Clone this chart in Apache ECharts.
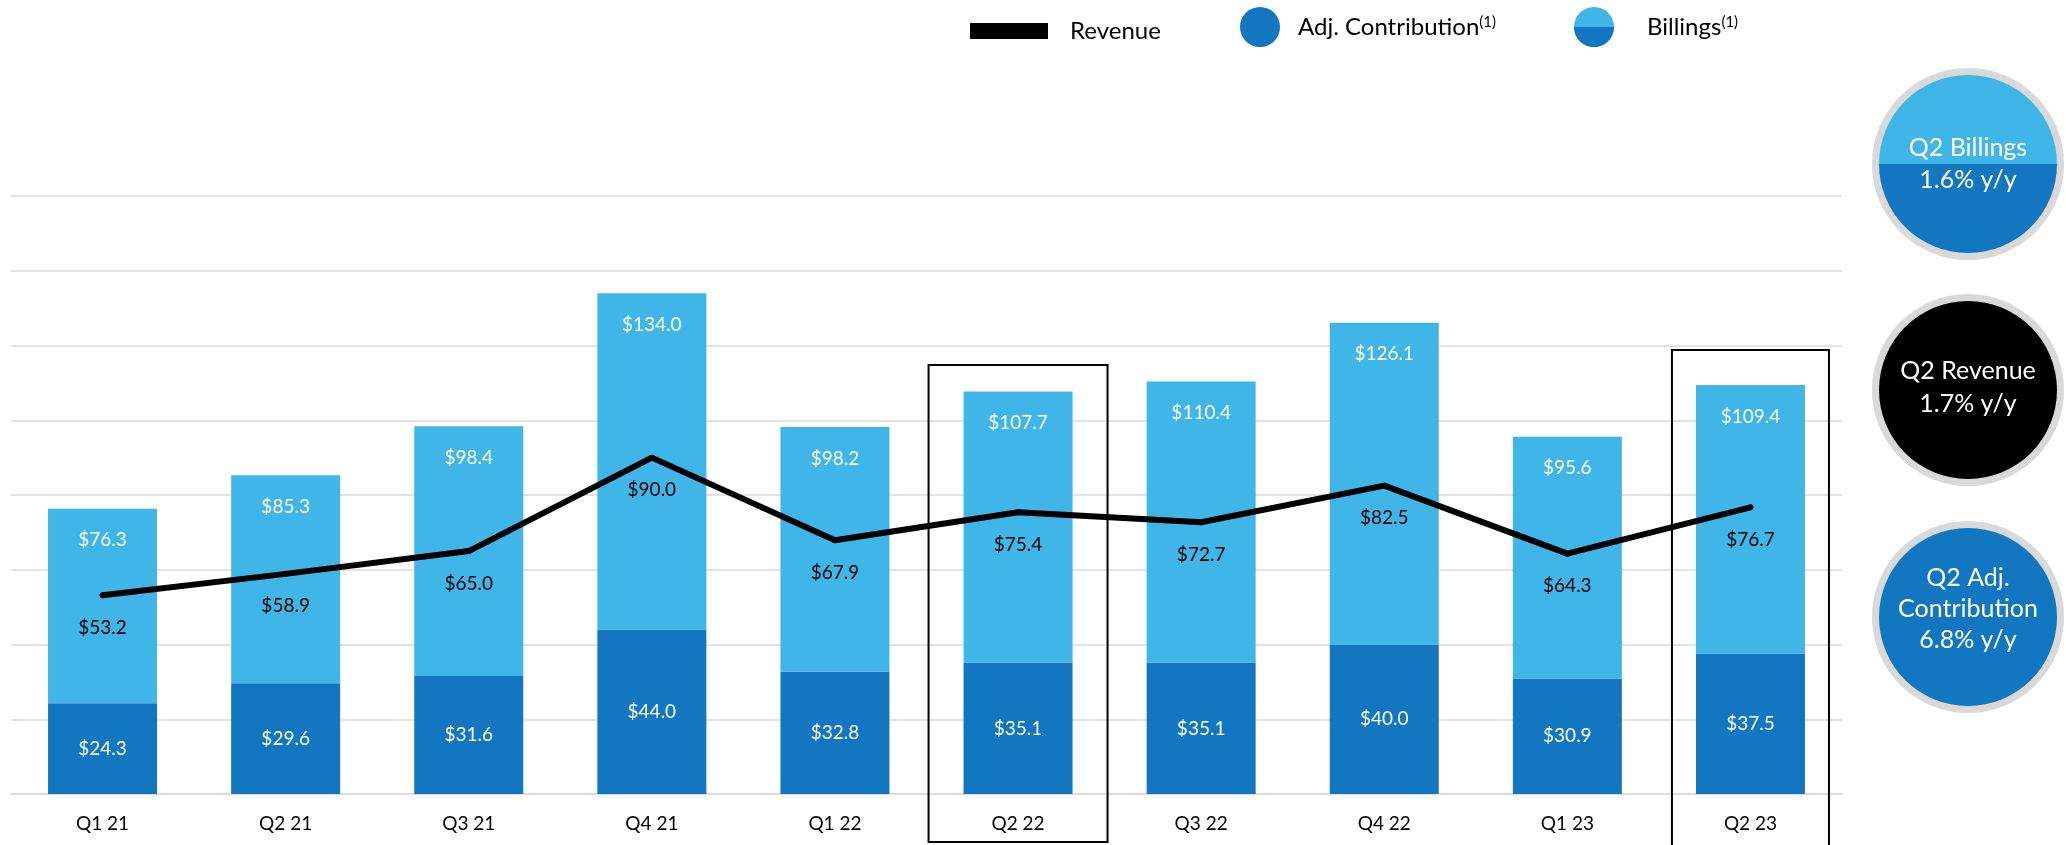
<!DOCTYPE html>
<html>
<head>
<meta charset="utf-8">
<script src="https://cdn.jsdelivr.net/npm/echarts@6/dist/echarts.min.js"></script>
<style>
  html, body { margin: 0; padding: 0; background: #fff; }
  #chart { width: 2066px; height: 845px; }
</style>
</head>
<body>
<div id="chart"></div>
<script>
var quarters = ['Q1 21', 'Q2 21', 'Q3 21', 'Q4 21', 'Q1 22', 'Q2 22', 'Q3 22', 'Q4 22', 'Q1 23', 'Q2 23'];
var billings = [76.3, 85.3, 98.4, 134.0, 98.2, 107.7, 110.4, 126.1, 95.6, 109.4];
var adjContribution = [24.3, 29.6, 31.6, 44.0, 32.8, 35.1, 35.1, 40.0, 30.9, 37.5];
var revenue = [53.2, 58.9, 65.0, 90.0, 67.9, 75.4, 72.7, 82.5, 64.3, 76.7];
var highlighted = ['Q2 22', 'Q2 23'];

var DARK = '#1276C0';
var LIGHT = '#40B5E7';
var FONT = 'Lato';

// light part of the stack = billings above adj. contribution
var billingsRest = billings.map(function (v, i) { return +(v - adjContribution[i]).toFixed(1); });

function money(v) { return '$' + v.toFixed(1); }

var chart = echarts.init(document.getElementById('chart'));

var legendText = {
    fontFamily: FONT,
    fontSize: 24,
    color: '#000',
    rich: {
        a: { fontFamily: FONT, fontSize: 24, color: '#000' },
        s: { fontFamily: FONT, fontSize: 15, color: '#000', verticalAlign: 'top' }
    }
};

var option = {
    animation: false,
    color: [DARK, LIGHT, '#000'],
    textStyle: { fontFamily: FONT },
    grid: { left: 11, right: 224, top: 196, bottom: 51, containLabel: false },
    legend: [
        {
            data: [{ name: 'Revenue', icon: 'rect' }],
            left: 970, top: 19, padding: 0,
            itemWidth: 78, itemHeight: 16,
            selectedMode: false,
            textStyle: Object.assign({ padding: [0, 0, 0, 17] }, legendText),
            formatter: function (n) { return '{a|' + n + '}'; }
        },
        {
            data: [{ name: 'Adj. Contribution', icon: 'circle' }],
            left: 1240, top: 7, padding: 0,
            itemWidth: 40, itemHeight: 40,
            selectedMode: false,
            textStyle: Object.assign({ padding: [0, 0, 0, 13] }, legendText),
            formatter: function (n) { return '{a|' + n + '}{s|(1)}'; }
        },
        {
            data: [{ name: 'Billings', icon: 'circle' }],
            left: 1574, top: 7, padding: 0,
            itemWidth: 40, itemHeight: 40,
            selectedMode: false,
            textStyle: Object.assign({ padding: [0, 0, 0, 28] }, legendText),
            formatter: function (n) { return '{a|' + n + '}{s|(1)}'; }
        }
    ],
    xAxis: {
        type: 'category',
        data: quarters,
        axisTick: { show: false },
        axisLine: { show: true, lineStyle: { color: '#dcdcdc', width: 2 } },
        axisLabel: { color: '#000', fontFamily: FONT, fontSize: 19, margin: 20 }
    },
    yAxis: {
        type: 'value',
        min: 0, max: 160, interval: 20,
        axisLabel: { show: false },
        axisLine: { show: false },
        axisTick: { show: false },
        splitLine: { lineStyle: { color: '#e3e3e3', width: 2 } }
    },
    series: [
        {
            name: 'Adj. Contribution',
            type: 'bar',
            stack: 'total',
            barWidth: 109,
            data: adjContribution,
            itemStyle: { color: DARK },
            label: {
                show: true, position: 'inside',
                color: '#fff', fontFamily: FONT, fontSize: 19,
                formatter: function (p) { return money(adjContribution[p.dataIndex]); }
            }
        },
        {
            name: 'Billings',
            type: 'bar',
            stack: 'total',
            barWidth: 109,
            data: billingsRest,
            itemStyle: { color: LIGHT },
            label: {
                show: true, position: 'insideTop', distance: 22,
                color: '#fff', fontFamily: FONT, fontSize: 19,
                formatter: function (p) { return money(billings[p.dataIndex]); }
            }
        },
        {
            name: 'Revenue',
            type: 'line',
            data: revenue,
            z: 10,
            symbol: 'circle',
            symbolSize: 6,
            itemStyle: { color: '#000' },
            lineStyle: { color: '#000', width: 6 },
            label: {
                show: true, position: 'bottom', distance: 20,
                color: '#000', fontFamily: FONT, fontSize: 19,
                formatter: function (p) { return money(p.value); }
            }
        }
    ]
};

chart.setOption(option);

// side badges and annotation boxes
var BADGE_FONT = '25px ' + FONT;

function badgeText(t, y) {
    return {
        type: 'text', x: 1968, y: y, z: 5,
        style: { text: t, fill: '#fff', font: BADGE_FONT, textAlign: 'center', textVerticalAlign: 'middle' }
    };
}

function badge(cy, fill, lines, lineYs) {
    var els = [
        { type: 'circle', shape: { cx: 1968, cy: cy, r: 96 }, style: { fill: '#d9d9d9' } },
        { type: 'circle', shape: { cx: 1968, cy: cy, r: 89 }, style: { fill: fill } }
    ];
    lines.forEach(function (t, i) { els.push(badgeText(t, lineYs[i])); });
    return els;
}

var gfx = [];
// billings badge: light top half, dark bottom half
gfx.push({ type: 'circle', shape: { cx: 1968, cy: 164, r: 96 }, style: { fill: '#d9d9d9' } });
gfx.push({ type: 'sector', shape: { cx: 1968, cy: 164, r: 89, r0: 0, startAngle: Math.PI, endAngle: Math.PI * 2 }, style: { fill: LIGHT } });
gfx.push({ type: 'sector', shape: { cx: 1968, cy: 164, r: 89, r0: 0, startAngle: 0, endAngle: Math.PI }, style: { fill: DARK } });
gfx.push(badgeText('Q2 Billings', 148));
gfx.push(badgeText('1.6% y/y', 180));

gfx = gfx.concat(badge(390, '#000', ['Q2 Revenue', '1.7% y/y'], [371, 404]));
gfx = gfx.concat(badge(617, DARK, ['Q2 Adj.', 'Contribution', '6.8% y/y'], [578, 609, 640]));

// bottom half of the billings legend icon
gfx.push({ type: 'sector', shape: { cx: 1574 + 20, cy: 7 + 20, r: 20, r0: 0, startAngle: 0, endAngle: Math.PI }, style: { fill: DARK }, z: 20 });

// boxes around the highlighted quarters
var boxSpec = { 'Q2 22': { w: 179, top: 365, bottom: 842 }, 'Q2 23': { w: 157, top: 350, bottom: 850 } };
highlighted.forEach(function (q) {
    var cx = chart.convertToPixel({ xAxisIndex: 0 }, q);
    var b = boxSpec[q];
    gfx.push({
        type: 'rect', z: 20,
        shape: { x: cx - b.w / 2, y: b.top, width: b.w, height: b.bottom - b.top },
        style: { fill: 'none', stroke: '#000', lineWidth: 2 }
    });
});

chart.setOption({ graphic: gfx });

window.addEventListener('resize', function () { chart.resize(); });
</script>
</body>
</html>
